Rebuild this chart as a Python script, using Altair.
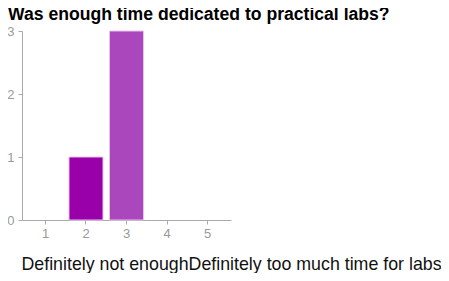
import altair as alt
import pandas as pd

categories = ["1", "2", "3", "4", "5"]
counts = [0, 1, 3, 0, 0]
colors = ["#9900aa", "#9900aa", "#ab47bc", "#9900aa", "#ab47bc"]

title_text = "Was enough time dedicated to practical labs?"
caption = "Definitely not enoughDefinitely too much time for labs"

df = pd.DataFrame({"rating": categories, "count": counts, "color": colors})

bars = (
    alt.Chart(df)
    .transform_filter("datum.count > 0")
    .mark_bar(stroke="#e6c4ec", strokeWidth=1)
    .encode(
        x=alt.X(
            "rating:N",
            scale=alt.Scale(domain=categories, paddingInner=0.16, paddingOuter=0.16),
            axis=alt.Axis(
                labelAngle=0,
                labelColor="#999999",
                labelFont="Liberation Sans",
                labelFontSize=13,
                labelPadding=3,
                tickColor="#aaaaaa",
                tickSize=4,
                domainColor="#aaaaaa",
                title=caption,
                titleFont="Liberation Sans",
                titleFontSize=17.8,
                titleFontWeight="normal",
                titleColor="#111111",
                titleAlign="left",
                titleBaseline="alphabetic",
                titleX=-1,
                titleY=49,
            ),
        ),
        y=alt.Y(
            "count:Q",
            scale=alt.Scale(domain=[0, 3], nice=False),
            axis=alt.Axis(
                values=[0, 1, 2, 3],
                format="d",
                grid=False,
                labelColor="#999999",
                labelFont="Liberation Sans",
                labelFontSize=13,
                labelPadding=4,
                tickColor="#aaaaaa",
                tickSize=4,
                domainColor="#aaaaaa",
                title=None,
            ),
        ),
        color=alt.Color("color:N", scale=None),
    )
)

title_layer = (
    alt.Chart(pd.DataFrame({"t": [title_text]}))
    .mark_text(
        align="left",
        baseline="alphabetic",
        font="Liberation Sans",
        fontSize=17.6,
        fontWeight="bold",
        color="#000000",
    )
    .encode(text="t:N", x=alt.value(-14), y=alt.value(-11))
)

chart = (
    alt.layer(bars, title_layer)
    .properties(
        width=209,
        height=189,
        padding={"left": 14, "top": 23, "right": 210, "bottom": 53},
        autosize=alt.AutoSizeParams(type="none"),
    )
    .configure_view(stroke=None)
)

chart.save("out.html", embed_options={"renderer": "svg", "actions": False})
